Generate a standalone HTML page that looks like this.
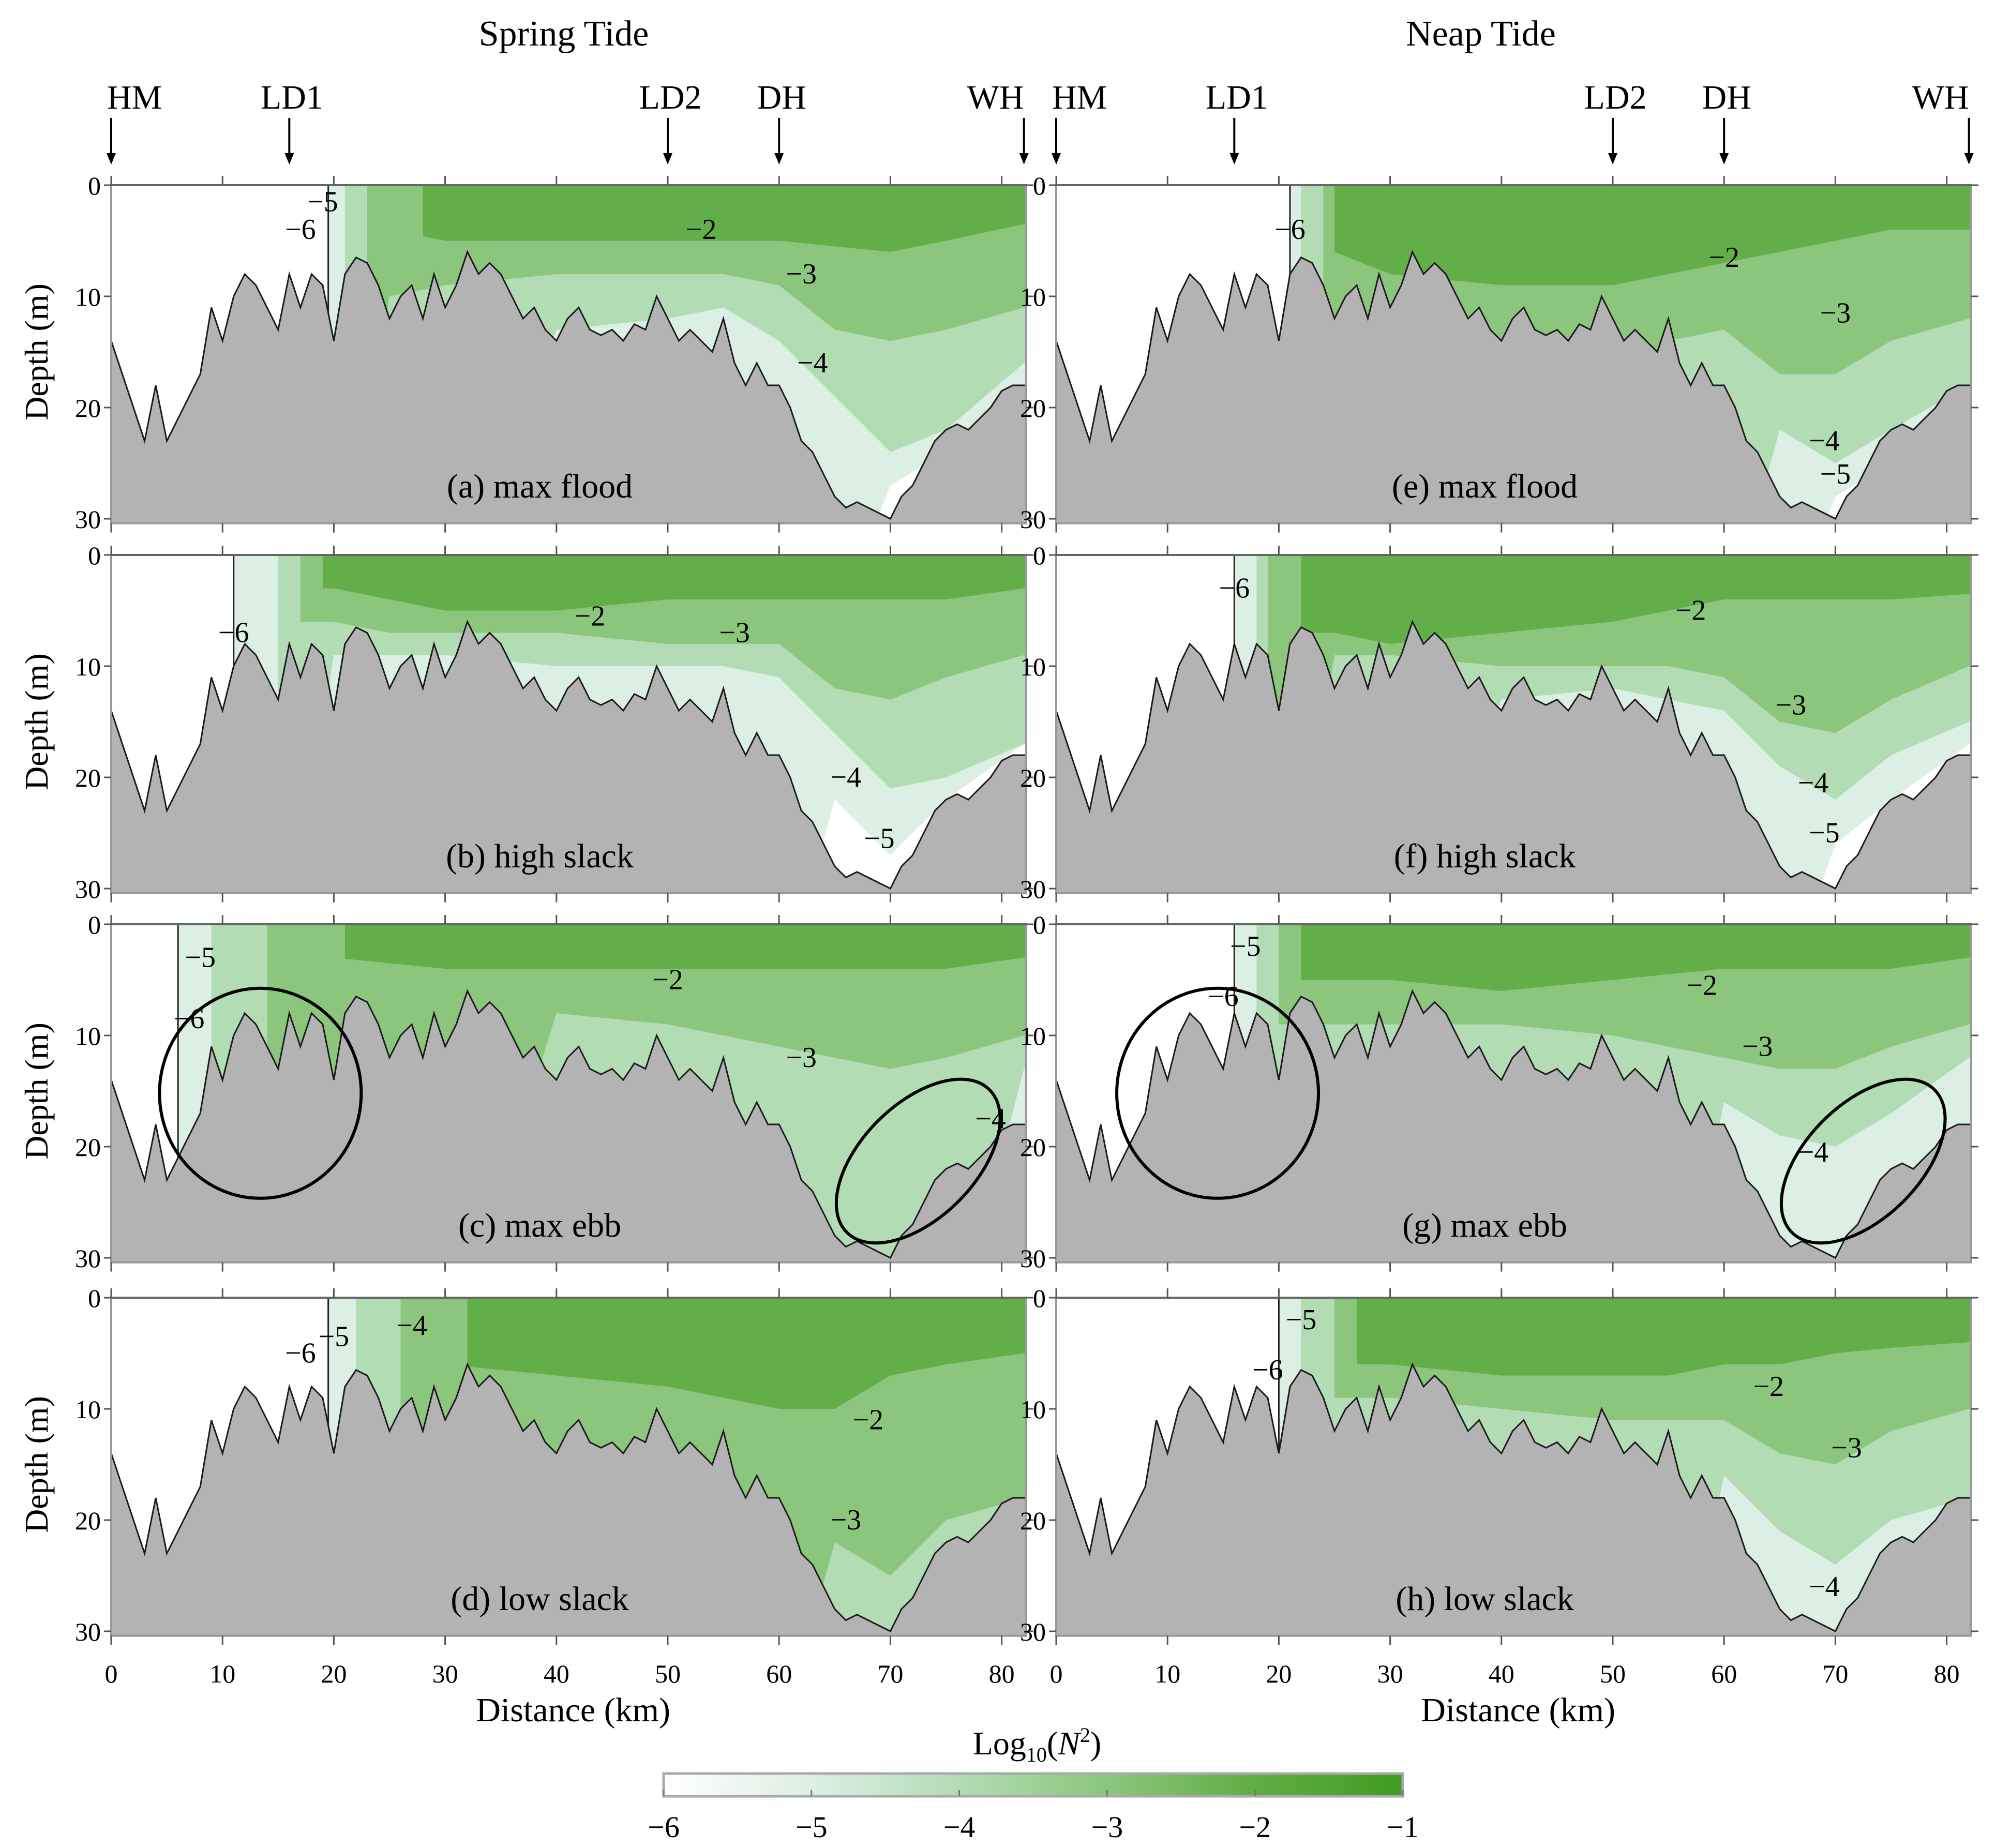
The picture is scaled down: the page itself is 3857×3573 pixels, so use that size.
<!DOCTYPE html>
<html><head><meta charset="utf-8">
<style>
html,body{margin:0;padding:0;background:#fff;}
svg{display:block;font-family:"Liberation Serif",serif;}
</style></head>
<body>
<svg id="fig" width="3857" height="3573" viewBox="0 0 3857 3573" xmlns="http://www.w3.org/2000/svg">
<defs id="defs">
<linearGradient id="cbar" x1="0" x2="1" y1="0" y2="0">
<stop offset="0" stop-color="#ffffff"/>
<stop offset="0.2" stop-color="#dcefe4"/>
<stop offset="0.4" stop-color="#b2dcb4"/>
<stop offset="0.6" stop-color="#8cc67c"/>
<stop offset="0.8" stop-color="#5fae44"/>
<stop offset="1" stop-color="#3f9c22"/>
</linearGradient>
</defs>
<g id="root"></g>
</svg>
<script>
// ---- data ----
const bedKm = [0,1,2,3,4,5,6,7,8,9,10,11,12,13,14,15,16,17,18,19,20,21,22,23,24,25,26,27,28,29,30,31,32,33,34,35,36,37,38,39,40,41,42,43,44,45,46,47,48,49,50,51,52,53,54,55,56,57,58,59,60,61,62,63,64,65,66,67,68,69,70,71,72,73,74,75,76,77,78,79,80,81,82];
const bedDepth = [14,17,20,23,18,23,21,19,17,11,14,10,8,9,11,13,8,11,8,9,14,8,6.5,7,9,12,10,9,12,8,11,9,6,8,7,8,10,12,11,13,14,12,11,13,13.5,13,14,12.5,13,10,12,14,13,14,15,12,16,18,16,18,18,20,23,24,26,28,29,28.5,29,29.5,30,28,27,25,23,22,21.5,22,21,20,18.5,18,18];
const gridKm = [15,20,25,30,40,50,55,60,65,70,75,82];
const panelNames = ["a","b","c","d","e","f","g","h"];
const panelTitles = ["(a) max flood","(b) high slack","(c) max ebb","(d) low slack","(e)  max flood","(f)  high slack","(g)  max ebb","(h)  low slack"];
const levelStarts = [[19.5,21,23,28],[11,15,17,19],[6,9,14,21],[19.5,22,26,32],[21,22,24,25],[16,18,19,22],[16,18,20,22],[20,22,25,27]];
const lev5 = [
 [40,40,40,40,40,40,40,40,40,27,24,19],
 [40,40,40,40,40,40,40,40,22,27,22,17],
 [40,40,40,40,40,40,40,40,40,40,40,40],
 [40,40,40,40,40,40,40,40,40,40,40,40],
 [40,40,40,40,40,40,40,40,40,28,25,20],
 [40,40,40,40,40,40,40,40,40,26,22,17],
 [40,40,40,40,40,40,40,40,40,40,24,18],
 [40,40,40,40,40,40,40,40,40,40,40,40]];
const lev4 = [
 [40,40,40,40,13,12,11,14,19,24,22,16],
 [40,9,9,9,10,10,10,11,16,21,20,17],
 [40,40,40,40,40,40,40,40,40,40,40,13],
 [40,40,40,40,40,40,40,40,40,40,40,40],
 [40,40,40,40,40,40,40,40,22,25,22,18],
 [40,40,40,40,13,12,13,14,19,22,18,15],
 [40,40,40,40,40,40,40,16,19,20,17,12],
 [40,40,40,40,40,40,40,16,21,24,20,18]];
const lev3 = [
 [40,40,10,9,8,8,8,9,13,14,13,11],
 [6,6,7,7,7,8,8,8,12,13,11,9],
 [40,40,40,40,8,9,10,11,12,13,12,10],
 [40,40,40,40,40,40,40,40,22,25,20,18],
 [40,40,40,40,40,40,14,13,17,17,14,12],
 [40,40,9,9,10,10,10,11,15,16,13,10],
 [9,9,9,9,9,10,11,12,13,13,11,9],
 [9,9,9,9,10,11,11,11,14,15,12,10]];
const lev2 = [
 [4,4,4,5,5,5,5,5,5.5,6,5,3.5],
 [3,3,4,5,5,4,4,4,4,4,4,3],
 [3,3,3.5,4,4,4,4,4,4,4,4,3],
 [6,6,6,6,7,8,9,10,10,7,6,5],
 [6,6,6,8,9,9,8,7,6,5,4,4],
 [7,7,7,8,7,6,5,4,4,4,4,3.5],
 [5,5,5,5,6,5,4.5,4,4,4,4,3],
 [6,6,6,6,7,7,7,6,6,5,4.5,4]];
const contourLabels = [
 [["−5",19,1.5],["−6",17,4],["−2",53,4],["−3",62,8],["−4",63,16]],
 [["−6",11,7],["−2",43,5.5],["−3",56,7],["−4",66,20],["−5",69,25.5]],
 [["−5",8,3],["−6",7,8.5],["−2",50,5],["−3",62,12],["−4",79,17.5]],
 [["−6",17,5],["−5",20,3.5],["−4",27,2.5],["−2",68,11],["−3",66,20]],
 [["−6",21,4],["−2",60,6.5],["−3",70,11.5],["−4",69,23],["−5",70,26]],
 [["−6",16,3],["−2",57,5],["−3",66,13.5],["−4",68,20.5],["−5",69,25]],
 [["−5",17,2],["−6",15,6.5],["−2",58,5.5],["−3",63,11],["−4",68,20.5]],
 [["−5",22,2],["−6",19,6.5],["−2",64,8],["−3",71,13.5],["−4",69,26]]];
const stationNames = ["HM","LD1","LD2","DH","WH"];
const stationKm = [0,16,50,60,82];
const xTicks = [0,10,20,30,40,50,60,70,80];
const yTicks = [0,10,20,30];
const cbarTicks = [-6,-5,-4,-3,-2,-1];
const levelColors = ["#dcefe4","#b2dcb4","#8cc67c","#62ae48"];

// ---- layout ----
const colX0 = [215, 2042];
const rowY0 = [358, 1073, 1787, 2509];
const KX = 21.52, KY = 21.5;
const NS = "http://www.w3.org/2000/svg";
const root = document.getElementById("root");
const defs = document.getElementById("defs");
function mk(tag, attrs, parent){ const e=document.createElementNS(NS,tag); for(const k in attrs) e.setAttribute(k,attrs[k]); (parent||root).appendChild(e); return e; }
function interp(xs, ys, x){ if(x<=xs[0]) return ys[0]; for(let i=1;i<xs.length;i++){ if(x<=xs[i]){ const t=(x-xs[i-1])/(xs[i]-xs[i-1]); return ys[i-1]+t*(ys[i]-ys[i-1]); } } return ys[ys.length-1]; }

for(let p=0;p<8;p++){
  const c = p<4?0:1, r = p%4;
  const X = km => colX0[c] + km*KX;
  const Y = d => rowY0[r] + d*KY;
  const cp = mk("clipPath",{id:"clip"+p},defs);
  mk("rect",{x:X(0),y:Y(0),width:X(82.2)-X(0),height:Y(30.4)-Y(0)},cp);
  const g = mk("g",{});
  
  
  const fr = mk("rect",{x:X(0),y:Y(0),width:X(82.2)-X(0),height:Y(30.4)-Y(0),fill:"#fff",stroke:"#999","stroke-width":4},g);
  
  
  const inner = mk("g",{"clip-path":"url(#clip"+p+")"},g);
  
  
  const levs=[lev5[p],lev4[p],lev3[p],lev2[p]];
  for(let L=0;L<4;L++){
    const xs=levelStarts[p][L];
    let pts=[[X(xs),Y(0)],[X(82.2),Y(0)]];
    const samp=[xs]; for(const k of gridKm) if(k>xs) samp.push(k); if(samp[samp.length-1]<82.2) samp.push(82.2);
    for(let i=samp.length-1;i>=0;i--){ pts.push([X(samp[i]),Y(Math.min(40,interp(gridKm,levs[L],samp[i])))]); }
    const poly = mk("polygon",{points:pts.map(q=>q.join(",")).join(" "),fill:levelColors[L]},inner);
    
    
  }
  const x6 = levelStarts[p][0];
  const bl = mk("line",{x1:X(x6),y1:Y(0),x2:X(x6),y2:Y(interp(bedKm,bedDepth,x6)),stroke:"#222","stroke-width":3},inner);
  
  
  let bp=[[X(0),Y(31)]]; for(let i=0;i<bedKm.length;i++) bp.push([X(bedKm[i]),Y(bedDepth[i])]); bp.push([X(82.4),Y(bedDepth[bedDepth.length-1])]); bp.push([X(82.4),Y(31)]);
  const bed = mk("polygon",{points:bp.map(q=>q.join(",")).join(" "),fill:"#b3b3b3",stroke:"#1a1a1a","stroke-width":3},inner);
  
  
  const fr2 = mk("rect",{x:X(0),y:Y(0),width:X(82.2)-X(0),height:Y(30.4)-Y(0),fill:"none",stroke:"#999","stroke-width":4},g);
  
  
  const sl = mk("line",{x1:X(0),y1:Y(0),x2:X(82.2),y2:Y(0),stroke:"#666","stroke-width":4},g);
  
  
  for(const t of xTicks){
    const tk = mk("line",{x1:X(t),y1:Y(0)-18,x2:X(t),y2:Y(0),stroke:"#555","stroke-width":3},g);
    
    
    const tb = mk("line",{x1:X(t),y1:Y(30.4),x2:X(t),y2:Y(30.4)+18,stroke:"#555","stroke-width":3},g);
    
    
  }
  for(const t of yTicks){
    const tk = mk("line",{x1:X(0)-14,y1:Y(t),x2:X(0),y2:Y(t),stroke:"#555","stroke-width":3},g);
    
    
    const tr = mk("line",{x1:X(82.2),y1:Y(t),x2:X(82.2)+14,y2:Y(t),stroke:"#555","stroke-width":3},g);
    
    
    const tl = mk("text",{x:X(0)-20,y:Y(t)+18,"text-anchor":"end","font-size":50},g);
    tl.textContent=t;
    
    
  }
  for(const lb of contourLabels[p]){
    const t = mk("text",{x:X(lb[1]),y:Y(lb[2])+18,"text-anchor":"middle","font-size":56},g);
    t.textContent=lb[0];
    
    
  }
  const tt = mk("text",{x:X(38.5),y:Y(28.1),"text-anchor":"middle","font-size":66},g);
  tt.textContent=panelTitles[p];
  
  
  if(c===0){
    const yl = mk("text",{x:0,y:0,"text-anchor":"middle","font-size":64,transform:`translate(92,${Y(15)}) rotate(-90)`},g);
    yl.textContent="Depth (m)";
    
    
  }
  if(r===3){
    for(const t of xTicks){
      const xl = mk("text",{x:X(t),y:3253,"text-anchor":"middle","font-size":50},g);
      xl.textContent=t;
      
      
    }
    const xt = mk("text",{x:X(41.5),y:3328,"text-anchor":"middle","font-size":66},g);
    xt.textContent="Distance (km)";
    
    
  }
  if(r===0){
    for(let s=0;s<stationNames.length;s++){
      const sx = X(stationKm[s]);
      const st = mk("text",{x:sx+(s===0?45:s===4?-55:5),y:210,"text-anchor":"middle","font-size":66},g);
      st.textContent=stationNames[s];
      
      
      const ar = mk("line",{x1:sx,y1:228,x2:sx,y2:300,stroke:"#000","stroke-width":4},g);
      
      
      const ah = mk("polygon",{points:`${sx-9},296 ${sx+9},296 ${sx},318`,fill:"#000"},g);
      
      
    }
    const ht = mk("text",{x:c===0?1090:2863,y:88,"text-anchor":"middle","font-size":70},g);
    ht.textContent = c===0?"Spring Tide":"Neap Tide";
    
    
  }
  if(r===2){
    const e1 = mk("ellipse",{cx:X(c===0?13.4:14.5),cy:Y(15.2),rx:195,ry:203,fill:"none",stroke:"#000","stroke-width":6},g);
    
    
    const cx2=X(72.5), cy2=Y(21.3);
    const e2 = mk("ellipse",{cx:cx2,cy:cy2,rx:195,ry:110,fill:"none",stroke:"#000","stroke-width":6,transform:`rotate(-45 ${cx2} ${cy2})`},g);
    
    
  }
}
const cbx0=1283, cbx1=2712, cby0=3429, cby1=3473;
const cb = mk("rect",{x:cbx0,y:cby0,width:cbx1-cbx0,height:cby1-cby0,fill:"url(#cbar)",stroke:"#aaa","stroke-width":5});


for(const t of cbarTicks){
  const x = cbx0 + (t+6)/5*(cbx1-cbx0);
  const tk = mk("line",{x1:x,y1:cby1-12,x2:x,y2:cby1,stroke:"#777","stroke-width":3});
  
  
  const tl = mk("text",{x:x,y:3552,"text-anchor":"middle","font-size":58});
  tl.textContent = "−"+Math.abs(t);
  
  
}
const ct = mk("text",{x:2005,y:3392,"text-anchor":"middle","font-size":64});
ct.innerHTML = 'Log<tspan font-size="40" dy="14">10</tspan><tspan dy="-14">(</tspan><tspan font-style="italic">N</tspan><tspan font-size="40" dy="-24">2</tspan><tspan dy="24">)</tspan>';


</script>
</body></html>
